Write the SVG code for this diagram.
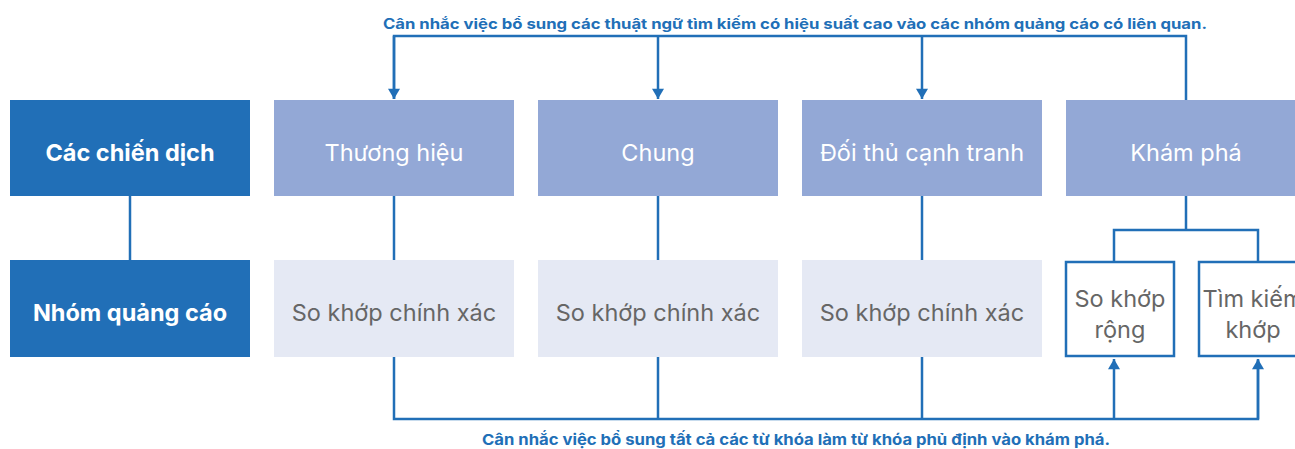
<svg xmlns="http://www.w3.org/2000/svg" width="1295" height="449" viewBox="0 0 1295 449">
<style>
text{font-family:Inter,"Liberation Sans","Noto Sans",sans-serif;text-anchor:middle;dominant-baseline:central}
.hd{fill:#216fb7}
.hdt{fill:#fff;font-weight:700;font-size:23.5px}
.cp{fill:#93a8d6}
.cpt{fill:#fff;font-size:23.5px}
.ag{fill:#e5e9f4}
.agt{fill:#666;font-size:23.5px}
.ob{fill:#fff;stroke:#216fb7;stroke-width:2.5}
.obt{fill:#666;font-size:23.5px}
.ln{fill:none;stroke:#216fb7;stroke-width:2.5}
.lbl{fill:#216fb7;font-weight:700;font-size:14px}
.lbl2{fill:#216fb7;font-weight:700;font-size:15px}
</style>
<defs>
<marker id="ah2" viewBox="0 0 12 14" refX="12" refY="7" markerWidth="14" markerHeight="12" markerUnits="userSpaceOnUse" orient="auto">
<path d="M0,0 L12,7 L0,14 z" fill="#216fb7"/>
</marker>
</defs>
<g id="connectors">
<path class="ln" d="M394,99 V36 H1186 V100"/>
<path class="ln" d="M658,36 V99" marker-end="url(#ah2)"/>
<path class="ln" d="M922,36 V99" marker-end="url(#ah2)"/>
<path class="ln" d="M394,36 V99" marker-end="url(#ah2)"/>
<path class="ln" d="M130,196 V260"/>
<path class="ln" d="M394,196 V260"/>
<path class="ln" d="M658,196 V260"/>
<path class="ln" d="M922,196 V260"/>
<path class="ln" d="M1186,196 V230 M1114,261 V230 H1258 V261"/>
<path class="ln" d="M394,357 V419 H1258 V360"/>
<path class="ln" d="M658,357 V419 M922,357 V419"/>
<path class="ln" d="M1114,419 V359" marker-end="url(#ah2)"/>
<path class="ln" d="M1258,419 V359" marker-end="url(#ah2)"/>
</g>
<g id="label-top"><text class="lbl" x="795" y="23" textLength="824" lengthAdjust="spacingAndGlyphs">Cân nhắc việc bổ sung các thuật ngữ tìm kiếm có hiệu suất cao vào các nhóm quảng cáo có liên quan.</text></g>
<g id="label-bottom"><text class="lbl2" x="796" y="439" textLength="628" lengthAdjust="spacingAndGlyphs">Cân nhắc việc bổ sung tất cả các từ khóa làm từ khóa phủ định vào khám phá.</text></g>
<g id="n-campaigns"><rect class="hd" x="10" y="100" width="240" height="96"/><text class="hdt" x="130" y="152">Các chiến dịch</text></g>
<g id="n-adgroups"><rect class="hd" x="10" y="260" width="240" height="97"/><text class="hdt" x="130" y="312">Nhóm quảng cáo</text></g>
<g id="n-brand"><rect class="cp" x="274" y="100" width="240" height="96"/><text class="cpt" x="394" y="152">Thương hiệu</text></g>
<g id="n-generic"><rect class="cp" x="538" y="100" width="240" height="96"/><text class="cpt" x="658" y="152">Chung</text></g>
<g id="n-competitor"><rect class="cp" x="802" y="100" width="240" height="96"/><text class="cpt" x="922" y="152">Đối thủ cạnh tranh</text></g>
<g id="n-discovery"><rect class="cp" x="1066" y="100" width="240" height="96"/><text class="cpt" x="1186" y="152">Khám phá</text></g>
<g id="n-exact1"><rect class="ag" x="274" y="260" width="240" height="97"/><text class="agt" x="394" y="312">So khớp chính xác</text></g>
<g id="n-exact2"><rect class="ag" x="538" y="260" width="240" height="97"/><text class="agt" x="658" y="312">So khớp chính xác</text></g>
<g id="n-exact3"><rect class="ag" x="802" y="260" width="240" height="97"/><text class="agt" x="922" y="312">So khớp chính xác</text></g>
<g id="n-broad"><rect class="ob" x="1066" y="262" width="108" height="94"/><text class="obt" x="1120" y="298">So khớp</text><text class="obt" x="1120" y="329">rộng</text></g>
<g id="n-search"><rect class="ob" x="1199" y="262" width="108" height="94"/><text class="obt" x="1253" y="298">Tìm kiếm</text><text class="obt" x="1253" y="329">khớp</text></g>
</svg>
